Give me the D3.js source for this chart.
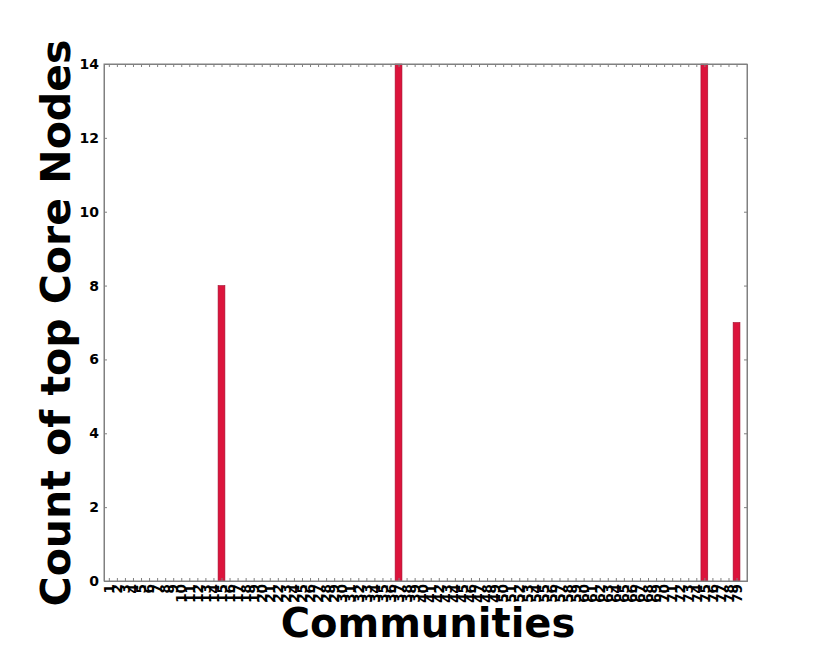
<!DOCTYPE html>
<html>
<head>
<meta charset="utf-8">
<script src="https://d3js.org/d3.v7.min.js"></script>
<style>
  body { margin: 0; background: #fff; }
  svg { display: block; }
  text { font-family: "DejaVu Sans", sans-serif; font-weight: bold; }
</style>
</head>
<body>
<svg id="chart"></svg>
<script>
// community ids 1..79, and count of top core nodes per community
const communities = d3.range(1, 80);
const counts = [
  0,0,0,0,0,0,0,0,0,0, 0,0,0,0,8,0,0,0,0,0,
  0,0,0,0,0,0,0,0,0,0, 0,0,0,0,0,0,14,0,0,0,
  0,0,0,0,0,0,0,0,0,0, 0,0,0,0,0,0,0,0,0,0,
  0,0,0,0,0,0,0,0,0,0, 0,0,0,0,14,0,0,0,7
];
const yTicks = [0, 2, 4, 6, 8, 10, 12, 14];

const width = 830, height = 646;
const margin = {top: 64, right: 83, bottom: 65, left: 104};
const innerW = width - margin.left - margin.right;
const innerH = height - margin.top - margin.bottom;

const svg = d3.select("#chart")
    .attr("width", width)
    .attr("height", height);

const chart = svg.append("g")
    .attr("transform", `translate(${margin.left},${margin.top})`);

const xScale = d3.scaleLinear()
    .domain([0.4, 80.3])
    .range([0, innerW]);

const yScale = d3.scaleLinear()
    .domain([0, 14])
    .range([innerH, 0]);

const barW = xScale(1.85) - xScale(1);

// bars
chart.selectAll(".bar")
    .data(communities.map((c, i) => ({c: c, v: counts[i]})).filter(d => d.v > 0))
    .join("rect")
    .attr("class", "bar")
    .attr("x", d => xScale(d.c) - barW / 2)
    .attr("y", d => yScale(d.v))
    .attr("width", barW)
    .attr("height", d => innerH - yScale(d.v))
    .attr("fill", "#dc143c")
    .attr("stroke", "#a01030")
    .attr("stroke-width", 0.6);

// axes (ticks pointing inside, like the old matplotlib style)
const axisColor = "#808080";

const xAxis = d3.axisBottom(xScale)
    .tickValues(communities)
    .tickSize(-3)
    .tickPadding(4)
    .tickFormat(d3.format("d"));

const xAxisTop = d3.axisTop(xScale)
    .tickValues(communities)
    .tickSize(-3)
    .tickFormat("");

const yAxis = d3.axisLeft(yScale)
    .tickValues(yTicks)
    .tickSize(-3)
    .tickPadding(5);

const yAxisRight = d3.axisRight(yScale)
    .tickValues(yTicks)
    .tickSize(-3)
    .tickFormat("");

const xAxisG = chart.append("g")
    .attr("transform", `translate(0,${innerH})`)
    .call(xAxis);

xAxisG.selectAll("text")
    .attr("transform", "rotate(-90)")
    .attr("text-anchor", "end")
    .attr("x", -3)
    .attr("y", 0)
    .attr("dy", "0.35em")
    .style("font-size", "13.5px")
    .attr("fill", "#000");

chart.append("g").call(xAxisTop);

const yAxisG = chart.append("g").call(yAxis);
yAxisG.selectAll("text")
    .style("font-size", "14px")
    .attr("fill", "#000");

chart.append("g")
    .attr("transform", `translate(${innerW},0)`)
    .call(yAxisRight);

chart.selectAll(".domain, .tick line")
    .attr("stroke", axisColor);

// frame
chart.append("rect")
    .attr("width", innerW)
    .attr("height", innerH)
    .attr("fill", "none")
    .attr("stroke", axisColor)
    .attr("stroke-width", 1);

// axis titles
svg.append("text")
    .attr("x", 428)
    .attr("y", 637)
    .attr("text-anchor", "middle")
    .style("font-size", "40px")
    .text("Communities");

svg.append("text")
    .attr("transform", "translate(70,323) rotate(-90)")
    .attr("text-anchor", "middle")
    .style("font-size", "41px")
    .text("Count of top Core Nodes");
</script>
</body>
</html>
